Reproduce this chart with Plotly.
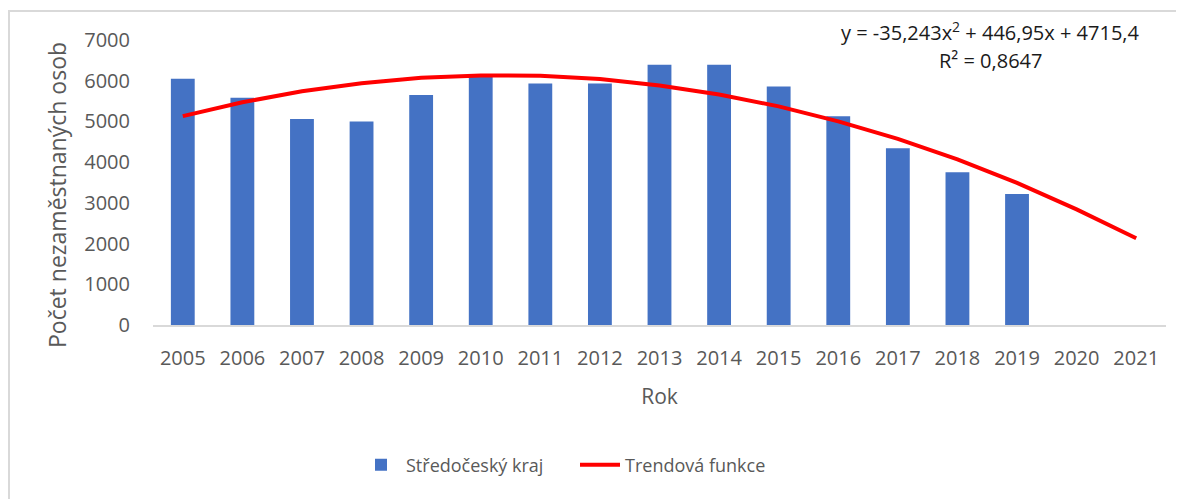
import plotly.graph_objects as go

years = [str(y) for y in range(2005, 2022)]
bar_years = years[:15]
unemployed = [6050, 5580, 5060, 5000, 5650, 6100, 5930, 5930, 6390, 6390, 5860, 5130, 4340, 3750, 3220]
trend = [5130, 5470, 5740, 5940, 6070, 6130, 6120, 6040, 5880, 5660, 5370, 5000, 4570, 4070, 3490, 2840, 2130]
y_ticks = [0, 1000, 2000, 3000, 4000, 5000, 6000, 7000]

FONT = "Open Sans"
GRAY = "#595959"

# the page has an 8px body margin; work in page pixels and convert
OFF = 8
W, H = 1184 - OFF, 499 - OFF
PL, PR, PT, PB = 153, 1166, 40, 325  # plot area in page pixels
L, T = PL - OFF, PT - OFF
R = W - (PR - OFF)
B = H - (PB - OFF)
pw, ph = PR - PL, PB - PT

def px(x):
    return (x - PL) / pw

def py(y):
    return (PB - y) / ph

fig = go.Figure()
fig.add_trace(go.Bar(
    x=bar_years, y=unemployed, name="Středočeský kraj",
    marker=dict(color="#4472C4", line=dict(width=0)),
))
fig.add_trace(go.Scatter(
    x=years, y=trend, name="Trendová funkce", mode="lines",
    line=dict(color="#FF0000", width=4),
))

fig.update_layout(
    width=W, height=H,
    margin=dict(l=L, r=R, t=T, b=B, autoexpand=False),
    paper_bgcolor="white", plot_bgcolor="white",
    bargap=0.6,
    font=dict(family=FONT, color=GRAY, size=18),
    showlegend=True,
    legend=dict(orientation="h", x=px(575), y=py(465), xanchor="center", yanchor="middle",
                font=dict(size=18, color=GRAY), itemwidth=40, traceorder="normal",
                entrywidth=164, entrywidthmode="pixels"),
    xaxis=dict(type="category", categoryorder="array", categoryarray=years,
               showgrid=False, showline=True, linecolor="#d9d9d9", linewidth=1.5,
               tickfont=dict(size=20, color=GRAY), ticks="", ticklabelstandoff=14,
               title=dict(text="Rok", font=dict(size=21, color=GRAY), standoff=20),
               range=[-0.5, 16.5]),
    yaxis=dict(range=[0, 7000], tickvals=y_ticks, showgrid=False, zeroline=False,
               showline=False, ticks="", tickfont=dict(size=20, color=GRAY),
               ticklabelstandoff=22),
    shapes=[dict(type="rect", xref="paper", yref="paper",
                 x0=px(9), x1=px(1195), y0=py(510), y1=py(11),
                 line=dict(color="#d9d9d9", width=2), fillcolor="rgba(0,0,0,0)", layer="below")],
    annotations=[
        dict(text="Počet nezaměstnaných osob", xref="paper", yref="paper",
             x=px(57), y=py(195), textangle=-90, showarrow=False,
             xanchor="center", yanchor="middle",
             font=dict(size=23, color=GRAY, family=FONT)),
        dict(text="y = -35,243x<sup>2</sup> + 446,95x + 4715,4", xref="paper", yref="paper",
             x=px(990), y=py(32), showarrow=False, xanchor="center", yanchor="middle",
             font=dict(size=20, color="#1a1a1a", family=FONT)),
        dict(text="R² = 0,8647", xref="paper", yref="paper",
             x=px(990), y=py(60), showarrow=False, xanchor="center", yanchor="middle",
             font=dict(size=20, color="#1a1a1a", family=FONT)),
    ],
)

fig.write_html("out.html")
